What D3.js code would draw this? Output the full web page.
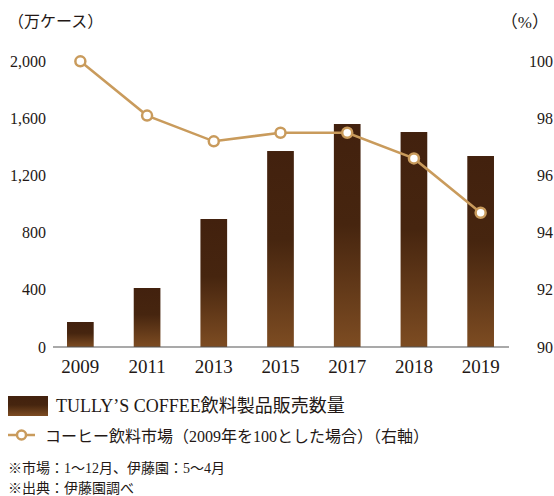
<!DOCTYPE html>
<html>
<head>
<meta charset="utf-8">
<script src="https://cdn.jsdelivr.net/npm/d3@7"></script>
<style>
  body { margin: 0; background: #fff; }
  text { font-family: "Liberation Serif", "Noto Sans CJK JP", serif; fill: #231815; }
</style>
</head>
<body>
<script>
// chart data
const years = ["2009", "2011", "2013", "2015", "2017", "2018", "2019"];
const sales = [175, 413, 896, 1372, 1561, 1505, 1337];          // 万ケース
const market = [100, 98.1, 97.2, 97.5, 97.5, 96.6, 94.7];      // %
const leftTicks = [0, 400, 800, 1200, 1600, 2000];
const rightTicks = [90, 92, 94, 96, 98, 100];

const width = 554, height = 496;
const lineColor = "#c99b5c";

const svg = d3.select("body").append("svg")
  .attr("width", width)
  .attr("height", height);

// gradient for the bars (dark top, lighter bottom)
const defs = svg.append("defs");
const grad = defs.append("linearGradient")
  .attr("id", "barGrad")
  .attr("x1", 0).attr("y1", 0).attr("x2", 0).attr("y2", 1);
grad.append("stop").attr("offset", "0%").attr("stop-color", "#42210e");
grad.append("stop").attr("offset", "45%").attr("stop-color", "#46250f");
grad.append("stop").attr("offset", "100%").attr("stop-color", "#7d4c22");

// scales
const x = d3.scaleBand()
  .domain(years)
  .range([47, 514])
  .paddingInner(0.6)
  .paddingOuter(0.3);

const yLeft = d3.scaleLinear().domain([0, 2000]).range([347, 61.3]);
const yRight = d3.scaleLinear().domain([90, 100]).range([347, 61.3]);

// bars
svg.append("g").selectAll("rect")
  .data(years)
  .enter().append("rect")
  .attr("x", d => x(d))
  .attr("y", (d, i) => yLeft(sales[i]))
  .attr("width", x.bandwidth())
  .attr("height", (d, i) => yLeft(0) - yLeft(sales[i]))
  .attr("fill", "url(#barGrad)");

// baseline
svg.append("line")
  .attr("x1", 53).attr("x2", 509)
  .attr("y1", yLeft(0)).attr("y2", yLeft(0))
  .attr("stroke", "#555")
  .attr("stroke-width", 1.2);

// left axis labels
svg.append("g").selectAll("text")
  .data(leftTicks)
  .enter().append("text")
  .attr("x", 46)
  .attr("y", d => yLeft(d))
  .attr("dy", "0.35em")
  .attr("text-anchor", "end")
  .style("font-size", "16px")
  .text(d => d3.format(",")(d));

// right axis labels
svg.append("g").selectAll("text")
  .data(rightTicks)
  .enter().append("text")
  .attr("x", 553)
  .attr("y", d => yRight(d))
  .attr("dy", "0.35em")
  .attr("text-anchor", "end")
  .style("font-size", "16px")
  .text(d => d);

// x labels
svg.append("g").selectAll("text")
  .data(years)
  .enter().append("text")
  .attr("x", d => x(d) + x.bandwidth() / 2)
  .attr("y", 366)
  .attr("dy", "0.35em")
  .attr("text-anchor", "middle")
  .style("font-size", "19px")
  .text(d => d);

// unit labels
svg.append("text")
  .attr("x", 8).attr("y", 21)
  .attr("dy", "0.35em")
  .style("font-size", "16px")
  .text("（万ケース）");

svg.append("text")
  .attr("x", 549).attr("y", 22)
  .attr("dy", "0.35em")
  .attr("text-anchor", "end")
  .style("font-size", "17px")
  .text("（%）");

// market line
const line = d3.line()
  .x((d, i) => x(years[i]) + x.bandwidth() / 2)
  .y(d => yRight(d));

svg.append("path")
  .datum(market)
  .attr("d", line)
  .attr("fill", "none")
  .attr("stroke", lineColor)
  .attr("stroke-width", 2.5);

svg.append("g").selectAll("circle")
  .data(market)
  .enter().append("circle")
  .attr("cx", (d, i) => x(years[i]) + x.bandwidth() / 2)
  .attr("cy", d => yRight(d))
  .attr("r", 5)
  .attr("fill", "#fff")
  .attr("stroke", lineColor)
  .attr("stroke-width", 2.5);

// legend
svg.append("rect")
  .attr("x", 8).attr("y", 396)
  .attr("width", 40).attr("height", 20)
  .attr("fill", "url(#barGrad)");

svg.append("text")
  .attr("x", 56).attr("y", 406)
  .attr("dy", "0.35em")
  .style("font-size", "18px")
  .text("TULLY’S COFFEE飲料製品販売数量");

svg.append("line")
  .attr("x1", 8).attr("x2", 35)
  .attr("y1", 435).attr("y2", 435)
  .attr("stroke", lineColor)
  .attr("stroke-width", 2.5);

svg.append("circle")
  .attr("cx", 21.5).attr("cy", 435)
  .attr("r", 4.5)
  .attr("fill", "#fff")
  .attr("stroke", lineColor)
  .attr("stroke-width", 2.5);

svg.append("text")
  .attr("x", 45).attr("y", 436)
  .attr("dy", "0.35em")
  .style("font-size", "16px")
  .text("コーヒー飲料市場（2009年を100とした場合）（右軸）");

// notes
const notes = ["※市場：1～12月、伊藤園：5～4月", "※出典：伊藤園調べ"];
svg.append("g").selectAll("text")
  .data(notes)
  .enter().append("text")
  .attr("x", 8)
  .attr("y", (d, i) => 468 + i * 20)
  .attr("dy", "0.35em")
  .style("font-size", "14px")
  .text(d => d);
</script>
</body>
</html>
